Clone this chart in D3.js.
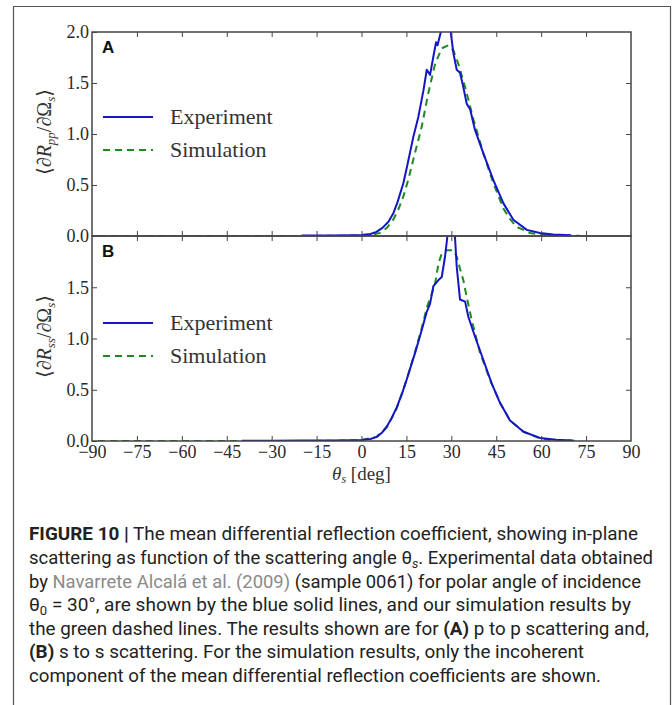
<!DOCTYPE html>
<html><head><meta charset="utf-8">
<script src="https://cdn.jsdelivr.net/npm/d3@7"></script>
<style>
html,body{margin:0;padding:0;background:#fff;}
svg{display:block;}
</style></head>
<body>
<svg id="fig" width="672" height="705"></svg>
<script>
// ---- data ----
const xTicks = [-90,-75,-60,-45,-30,-15,0,15,30,45,60,75,90];
const yTicksA = [0,0.5,1.0,1.5,2.0];
const yTicksB = [0,0.5,1.0,1.5];
const seriesNames = ["Experiment","Simulation"];

const thetaExpA = [-20,-10,-3,0,3,5,7,9,10.6,12,14,15.5,17.3,19,20.7,21.8,22.9,24,24.9,25.4,26.4,27.5,28.5,29.3,29.8,30.7,31.8,32.9,34,35.1,36.3,37.9,40.7,44,47.4,50.7,55.2,59.6,64,70];
const valExpA   = [0.005,0.006,0.008,0.01,0.02,0.04,0.08,0.14,0.22,0.33,0.52,0.72,0.97,1.17,1.43,1.63,1.58,1.76,1.90,1.87,1.99,2.08,2.12,2.10,2.0,1.79,1.63,1.60,1.46,1.30,1.24,1.04,0.81,0.55,0.32,0.16,0.06,0.03,0.015,0.008];

const thetaSimA = [-88,-75,-60,-45,-30,-15,-5,0,3,6.2,8.5,10.6,12.3,14,15.7,17.3,18.7,20.1,22.3,24.6,26.8,29,30.7,32.3,34.6,37.4,40.7,44,47.4,49.5,51.8,56.3,60,65,73];
const valSimA   = [0,0,0,0,0,0.001,0.003,0.005,0.01,0.03,0.08,0.16,0.26,0.39,0.56,0.75,0.91,1.07,1.40,1.69,1.84,1.87,1.82,1.69,1.46,1.14,0.81,0.52,0.27,0.17,0.09,0.03,0.015,0.006,0.002];

const thetaExpB = [-40,-30,-20,-10,-3,0,3,5.1,6.8,8.4,10,11.8,13.5,15.1,16.5,17.9,20.1,21.8,22.9,24,25.7,26.8,27.9,28.7,29.5,30.5,31.2,31.8,32.9,34.6,35.7,37.9,40.7,43.5,46.3,49.6,54.1,59.6,65,70.5];
const valExpB   = [0.002,0.003,0.004,0.005,0.008,0.01,0.02,0.04,0.08,0.14,0.22,0.33,0.46,0.60,0.73,0.86,1.08,1.26,1.34,1.51,1.57,1.60,1.80,2.0,2.4,2.4,2.0,1.70,1.38,1.36,1.21,1.02,0.79,0.56,0.37,0.20,0.09,0.03,0.012,0.005];

const thetaSimB = [-88,-75,-60,-45,-30,-15,-5,0,5,8.4,11.8,15.1,18,20.1,22,23.4,24.6,25.7,26.8,28.4,30.7,31.8,32.9,34,35.1,36.8,39.6,42.9,46.3,49.6,54.1,60,65,73];
const valSimB   = [0,0,0,0,0,0.001,0.004,0.01,0.04,0.13,0.32,0.60,0.88,1.10,1.32,1.43,1.54,1.73,1.83,1.86,1.86,1.80,1.68,1.57,1.41,1.18,0.86,0.60,0.37,0.20,0.09,0.02,0.008,0.002];

// ---- layout ----
const svg = d3.select("#fig");
const L = 92, R = 631, topA = 32, midY = 236, botB = 441;
const blue = "#1515c8", green = "#1e8a1e", axisCol = "#444", txtCol = "#2a2a2a";
const serif = "'Liberation Serif','DejaVu Serif',serif";

// outer frame
svg.append("path").attr("d", `M13.5,710 V6.5 H670.5 V710`).attr("fill","none").attr("stroke","#555").attr("stroke-width",1.2);

const x = d3.scaleLinear().domain([-90,90]).range([L,R]);
const yA = d3.scaleLinear().domain([0,2]).range([midY,topA]);
const yB = d3.scaleLinear().domain([0,2]).range([botB,midY]);

const defs = svg.append("defs");
defs.append("clipPath").attr("id","clipA").append("rect").attr("x",L).attr("y",topA).attr("width",R-L).attr("height",midY-topA);
defs.append("clipPath").attr("id","clipB").append("rect").attr("x",L).attr("y",midY).attr("width",R-L).attr("height",botB-midY);

function panel(y, yTicks, expT, expV, simT, simV, clipId, letter, ylabelSub, showX, legY) {
  const g = svg.append("g");
  const line = d3.line().x(d=>x(d[0])).y(d=>y(d[1]));
  const lines = g.append("g").attr("clip-path",`url(#${clipId})`);
  lines.append("path").datum(simT.map((t,i)=>[t,simV[i]])).attr("d",line)
    .attr("fill","none").attr("stroke",green).attr("stroke-width",2).attr("stroke-dasharray","7,5");
  lines.append("path").datum(expT.map((t,i)=>[t,expV[i]])).attr("d",line)
    .attr("fill","none").attr("stroke",blue).attr("stroke-width",2).attr("stroke-linejoin","round");

  const [y0,y1] = y.range();
  const left = g.append("g").attr("transform",`translate(${L},0)`)
    .call(d3.axisLeft(y).tickValues(yTicks).tickSize(-5).tickSizeOuter(0).tickPadding(3).tickFormat(d3.format(".1f")));
  const right = g.append("g").attr("transform",`translate(${R},0)`)
    .call(d3.axisRight(y).tickValues([0.5,1.0,1.5]).tickSize(-5).tickSizeOuter(0).tickFormat(""));
  const top = g.append("g").attr("transform",`translate(0,${y1})`)
    .call(d3.axisTop(x).tickValues(xTicks.slice(1,-1)).tickSize(-5).tickSizeOuter(0).tickFormat(""));
  const bottom = g.append("g").attr("transform",`translate(0,${y0})`)
    .call(d3.axisBottom(x).tickValues(showX ? xTicks : xTicks.slice(1,-1)).tickSize(-5).tickSizeOuter(0).tickPadding(2)
      .tickFormat(showX ? (d=> d<0 ? "\u2212"+Math.abs(d) : String(d)) : ""));
  [left,right,top,bottom].forEach(a=>{
    a.selectAll(".domain").remove();
    a.selectAll(".tick line").attr("stroke",axisCol).attr("stroke-width",1);
    a.selectAll("text").attr("font-family",serif).attr("font-size",18).attr("fill",txtCol);
  });
  bottom.selectAll(".tick").filter(d=>d===-90 || d===90).select("line").remove();
  bottom.selectAll("text").attr("dy","0.85em");
  g.append("rect").attr("x",L).attr("y",y1).attr("width",R-L).attr("height",y0-y1)
    .attr("fill","none").attr("stroke",axisCol).attr("stroke-width",1.5);

  g.append("text").attr("x",102).attr("y",y1+21).text(letter)
    .attr("font-family","'Liberation Sans',Arial,sans-serif").attr("font-weight","bold").attr("font-size",17).attr("fill","#111");

  const cols = [blue, green];
  seriesNames.forEach((name,i)=>{
    const ly = legY + i*33;
    g.append("line").attr("x1",103).attr("x2",153).attr("y1",ly).attr("y2",ly)
      .attr("stroke",cols[i]).attr("stroke-width",2).attr("stroke-dasharray", i===1 ? "7,5" : null);
    g.append("text").attr("x",170).attr("y",ly+7).text(name)
      .attr("font-family",serif).attr("font-size",22).attr("fill","#333");
  });

  const cy = (y0+y1)/2 - 2;
  const yl = g.append("text").attr("transform",`translate(51,${cy}) rotate(-90)`)
    .attr("text-anchor","middle").attr("font-family",serif).attr("font-size",20).attr("fill","#333");
  yl.append("tspan").text("\u27E8\u2202");
  yl.append("tspan").attr("font-style","italic").text("R");
  yl.append("tspan").attr("font-style","italic").attr("font-size",13).attr("dy",4).text(ylabelSub);
  yl.append("tspan").attr("dy",-4).text("/\u2202\u03A9");
  yl.append("tspan").attr("font-style","italic").attr("font-size",13).attr("dy",4).text("s");
  yl.append("tspan").attr("dy",-4).text("\u27E9");
}

panel(yA, yTicksA, thetaExpA, valExpA, thetaSimA, valSimA, "clipA", "A", "pp", false, 117);
panel(yB, yTicksB, thetaExpB, valExpB, thetaSimB, valSimB, "clipB", "B", "ss", true, 323);

const xl = svg.append("text").attr("x",(L+R)/2).attr("y",480).attr("text-anchor","middle")
  .attr("font-family",serif).attr("font-size",19).attr("fill","#333");
xl.append("tspan").attr("font-style","italic").text("\u03B8");
xl.append("tspan").attr("font-style","italic").attr("font-size",12).attr("dy",3).text("s");
xl.append("tspan").attr("dy",-3).text(" [deg]");

// ---- caption ----
const capFont = "'Liberation Sans Narrow','Roboto','Liberation Sans',Arial,sans-serif";
const capX = 29;
const capLines = [
  {y:540, w:609, parts:[["FIGURE 10 |","b"],[" The mean differential reflection coefficient, showing in-plane",""]]},
  {y:564, w:624, parts:[["scattering as function of the scattering angle \u03B8",""],["s","sub"],[". Experimental data obtained",""]]},
  {y:588, w:612, parts:[["by ",""],["Navarrete Alcal\u00E1 et al. (2009)","g"],[" (sample 0061) for polar angle of incidence",""]]},
  {y:611, w:602, parts:[["\u03B8",""],["0","sub0"],[" = 30\u00B0, are shown by the blue solid lines, and our simulation results by",""]]},
  {y:635, w:620, parts:[["the green dashed lines. The results shown are for ",""],["(A)","b"],[" p to p scattering and,",""]]},
  {y:658, w:555, parts:[["(B)","b"],[" s to s scattering. For the simulation results, only the incoherent",""]]},
  {y:682, w:572, parts:[["component of the mean differential reflection coefficients are shown.",""]]}
];
capLines.forEach(ln=>{
  const t = svg.append("text").attr("x",capX).attr("y",ln.y).attr("font-family",capFont)
    .attr("font-size",19).attr("fill","#222").attr("textLength",ln.w).attr("lengthAdjust","spacingAndGlyphs");
  let shifted = false;
  ln.parts.forEach(([s,st])=>{
    const sp = t.append("tspan").text(s);
    if (shifted) { sp.attr("dy",-4); shifted=false; }
    if (st==="b") sp.attr("font-weight","bold");
    if (st==="g") sp.attr("fill","#8a8a8a");
    if (st==="sub") { sp.attr("font-style","italic").attr("font-size",13).attr("dy",4); shifted=true; }
    if (st==="sub0") { sp.attr("font-size",13).attr("dy",4); shifted=true; }
  });
});
</script>
</body></html>
